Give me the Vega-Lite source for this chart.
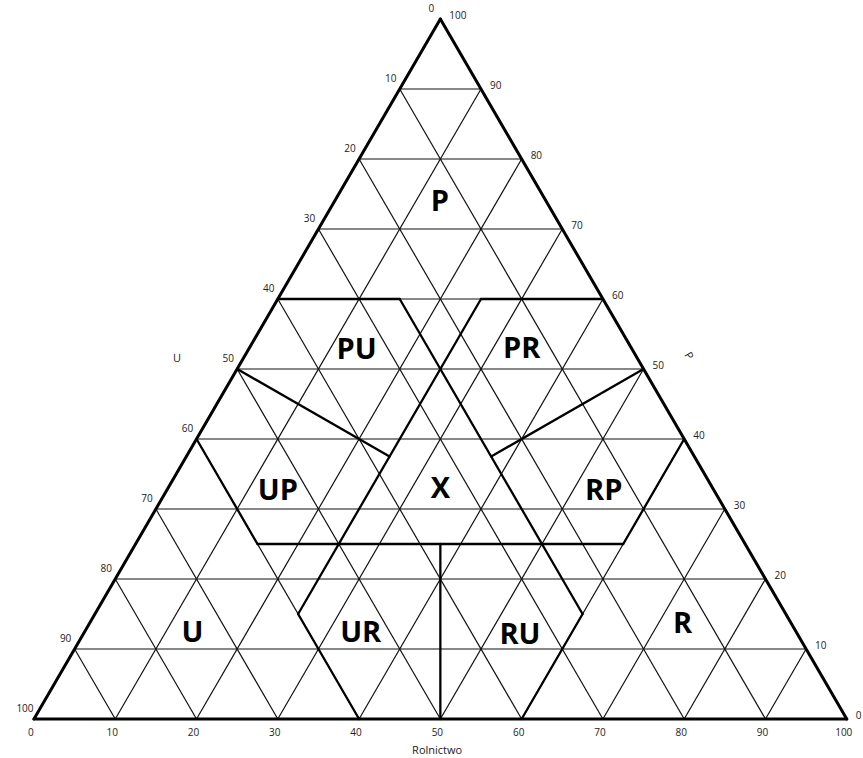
{
  "$schema": "https://vega.github.io/schema/vega-lite/v6.json",
  "width": 863,
  "height": 758,
  "padding": 0,
  "autosize": {"type": "none"},
  "background": "white",
  "config": {"view": {"stroke": null}},
  "datasets": {
    "grid": [
      {"x": 5, "y": 8.660, "x2": 95, "y2": 8.660},
      {"x": 10, "y": 17.321, "x2": 90, "y2": 17.321},
      {"x": 15, "y": 25.981, "x2": 85, "y2": 25.981},
      {"x": 20, "y": 34.641, "x2": 80, "y2": 34.641},
      {"x": 25, "y": 43.301, "x2": 75, "y2": 43.301},
      {"x": 45, "y": 51.962, "x2": 55, "y2": 51.962},
      {"x": 35, "y": 60.622, "x2": 65, "y2": 60.622},
      {"x": 40, "y": 69.282, "x2": 60, "y2": 69.282},
      {"x": 45, "y": 77.942, "x2": 55, "y2": 77.942},
      {"x": 10, "y": 0, "x2": 55, "y2": 77.942},
      {"x": 20, "y": 0, "x2": 60, "y2": 69.282},
      {"x": 30, "y": 0, "x2": 65, "y2": 60.622},
      {"x": 40, "y": 0, "x2": 70, "y2": 51.962},
      {"x": 50, "y": 0, "x2": 75, "y2": 43.301},
      {"x": 60, "y": 0, "x2": 80, "y2": 34.641},
      {"x": 70, "y": 0, "x2": 85, "y2": 25.981},
      {"x": 80, "y": 0, "x2": 90, "y2": 17.321},
      {"x": 90, "y": 0, "x2": 95, "y2": 8.660},
      {"x": 90, "y": 0, "x2": 45, "y2": 77.942},
      {"x": 80, "y": 0, "x2": 40, "y2": 69.282},
      {"x": 70, "y": 0, "x2": 35, "y2": 60.622},
      {"x": 60, "y": 0, "x2": 30, "y2": 51.962},
      {"x": 50, "y": 0, "x2": 25, "y2": 43.301},
      {"x": 40, "y": 0, "x2": 20, "y2": 34.641},
      {"x": 30, "y": 0, "x2": 15, "y2": 25.981},
      {"x": 20, "y": 0, "x2": 10, "y2": 17.321},
      {"x": 10, "y": 0, "x2": 5, "y2": 8.660}
    ],
    "outline": [
      {"x": 0, "y": 0, "x2": 100, "y2": 0},
      {"x": 0, "y": 0, "x2": 50, "y2": 86.603},
      {"x": 100, "y": 0, "x2": 50, "y2": 86.603}
    ],
    "bounds": [
      {"x": 30, "y": 51.962, "x2": 45, "y2": 51.962},
      {"x": 55, "y": 51.962, "x2": 70, "y2": 51.962},
      {"x": 45, "y": 51.962, "x2": 67.5, "y2": 12.990},
      {"x": 55, "y": 51.962, "x2": 32.5, "y2": 12.990},
      {"x": 25, "y": 43.301, "x2": 43.75, "y2": 32.476},
      {"x": 75, "y": 43.301, "x2": 56.25, "y2": 32.476},
      {"x": 20, "y": 34.641, "x2": 27.5, "y2": 21.651},
      {"x": 80, "y": 34.641, "x2": 72.5, "y2": 21.651},
      {"x": 27.5, "y": 21.651, "x2": 72.5, "y2": 21.651},
      {"x": 32.5, "y": 12.990, "x2": 40, "y2": 0},
      {"x": 67.5, "y": 12.990, "x2": 60, "y2": 0},
      {"x": 50, "y": 21.651, "x2": 50, "y2": 0}
    ],
    "regions": [
      {"label": "P", "x": 49.95, "y": 64.0},
      {"label": "PU", "x": 39.7, "y": 45.6},
      {"label": "PR", "x": 60.0, "y": 45.8},
      {"label": "UP", "x": 30.0, "y": 28.2},
      {"label": "X", "x": 50.0, "y": 28.5},
      {"label": "RP", "x": 70.1, "y": 28.2},
      {"label": "U", "x": 19.5, "y": 10.7},
      {"label": "UR", "x": 40.2, "y": 10.7},
      {"label": "RU", "x": 59.8, "y": 10.4},
      {"label": "R", "x": 79.8, "y": 11.7}
    ],
    "ticks": [
      {"axis": "U", "v": "0", "x": 50, "y": 86.603},
      {"axis": "U", "v": "10", "x": 45, "y": 77.942},
      {"axis": "U", "v": "20", "x": 40, "y": 69.282},
      {"axis": "U", "v": "30", "x": 35, "y": 60.622},
      {"axis": "U", "v": "40", "x": 30, "y": 51.962},
      {"axis": "U", "v": "50", "x": 25, "y": 43.301},
      {"axis": "U", "v": "60", "x": 20, "y": 34.641},
      {"axis": "U", "v": "70", "x": 15, "y": 25.981},
      {"axis": "U", "v": "80", "x": 10, "y": 17.321},
      {"axis": "U", "v": "90", "x": 5, "y": 8.660},
      {"axis": "U", "v": "100", "x": 0, "y": 0},
      {"axis": "P", "v": "0", "x": 100, "y": 0},
      {"axis": "P", "v": "10", "x": 95, "y": 8.660},
      {"axis": "P", "v": "20", "x": 90, "y": 17.321},
      {"axis": "P", "v": "30", "x": 85, "y": 25.981},
      {"axis": "P", "v": "40", "x": 80, "y": 34.641},
      {"axis": "P", "v": "50", "x": 75, "y": 43.301},
      {"axis": "P", "v": "60", "x": 70, "y": 51.962},
      {"axis": "P", "v": "70", "x": 65, "y": 60.622},
      {"axis": "P", "v": "80", "x": 60, "y": 69.282},
      {"axis": "P", "v": "90", "x": 55, "y": 77.942},
      {"axis": "P", "v": "100", "x": 50, "y": 86.603},
      {"axis": "R", "v": "0", "x": 0, "y": 0},
      {"axis": "R", "v": "10", "x": 10, "y": 0},
      {"axis": "R", "v": "20", "x": 20, "y": 0},
      {"axis": "R", "v": "30", "x": 30, "y": 0},
      {"axis": "R", "v": "40", "x": 40, "y": 0},
      {"axis": "R", "v": "50", "x": 50, "y": 0},
      {"axis": "R", "v": "60", "x": 60, "y": 0},
      {"axis": "R", "v": "70", "x": 70, "y": 0},
      {"axis": "R", "v": "80", "x": 80, "y": 0},
      {"axis": "R", "v": "90", "x": 90, "y": 0},
      {"axis": "R", "v": "100", "x": 100, "y": 0}
    ],
    "titles": [
      {"label": "U", "x": 17.6, "y": 44.5},
      {"label": "Rolnictwo", "x": 49.6, "y": -3.96}
    ],
    "ptitle": [
      {"label": "P", "x": 80.5, "y": 44.9}
    ]
  },
  "encoding": {
    "x": {"field": "x", "type": "quantitative", "axis": null, "scale": {"domain": [-4.18, 102.0], "nice": false, "zero": false}},
    "y": {"field": "y", "type": "quantitative", "axis": null, "scale": {"domain": [-4.825, 88.95], "nice": false, "zero": false}}
  },
  "layer": [
    {
      "data": {"name": "grid"},
      "mark": {"type": "rule", "color": "#111", "strokeWidth": 1.2},
      "encoding": {"x2": {"field": "x2"}, "y2": {"field": "y2"}}
    },
    {
      "data": {"name": "bounds"},
      "mark": {"type": "rule", "color": "#000", "strokeWidth": 2.3, "strokeCap": "round"},
      "encoding": {"x2": {"field": "x2"}, "y2": {"field": "y2"}}
    },
    {
      "data": {"name": "outline"},
      "mark": {"type": "rule", "color": "#000", "strokeWidth": 3, "strokeCap": "round"},
      "encoding": {"x2": {"field": "x2"}, "y2": {"field": "y2"}}
    },
    {
      "data": {"name": "regions"},
      "mark": {"type": "text", "font": "Open Sans", "fontWeight": "bold", "fontSize": 29, "color": "#000", "align": "center", "baseline": "middle"},
      "encoding": {"text": {"field": "label"}}
    },
    {
      "data": {"name": "ticks"},
      "transform": [{"filter": "datum.axis === 'U'"}],
      "mark": {"type": "text", "font": "Open Sans", "fontSize": 10, "color": "#222", "align": "center", "baseline": "middle", "dx": -9, "dy": -10},
      "encoding": {"text": {"field": "v"}}
    },
    {
      "data": {"name": "ticks"},
      "transform": [{"filter": "datum.axis === 'P'"}],
      "mark": {"type": "text", "font": "Open Sans", "fontSize": 10, "color": "#222", "align": "left", "baseline": "middle", "dx": 9, "dy": -3},
      "encoding": {"text": {"field": "v"}}
    },
    {
      "data": {"name": "ticks"},
      "transform": [{"filter": "datum.axis === 'R'"}],
      "mark": {"type": "text", "font": "Open Sans", "fontSize": 10, "color": "#222", "align": "center", "baseline": "middle", "dx": -3, "dy": 14},
      "encoding": {"text": {"field": "v"}}
    },
    {
      "data": {"name": "titles"},
      "mark": {"type": "text", "font": "Open Sans", "fontSize": 11, "color": "#222", "align": "center", "baseline": "middle"},
      "encoding": {"text": {"field": "label"}}
    },
    {
      "data": {"name": "ptitle"},
      "mark": {"type": "text", "font": "Open Sans", "fontSize": 11, "color": "#222", "align": "center", "baseline": "middle", "angle": 60},
      "encoding": {"text": {"field": "label"}}
    }
  ]
}
